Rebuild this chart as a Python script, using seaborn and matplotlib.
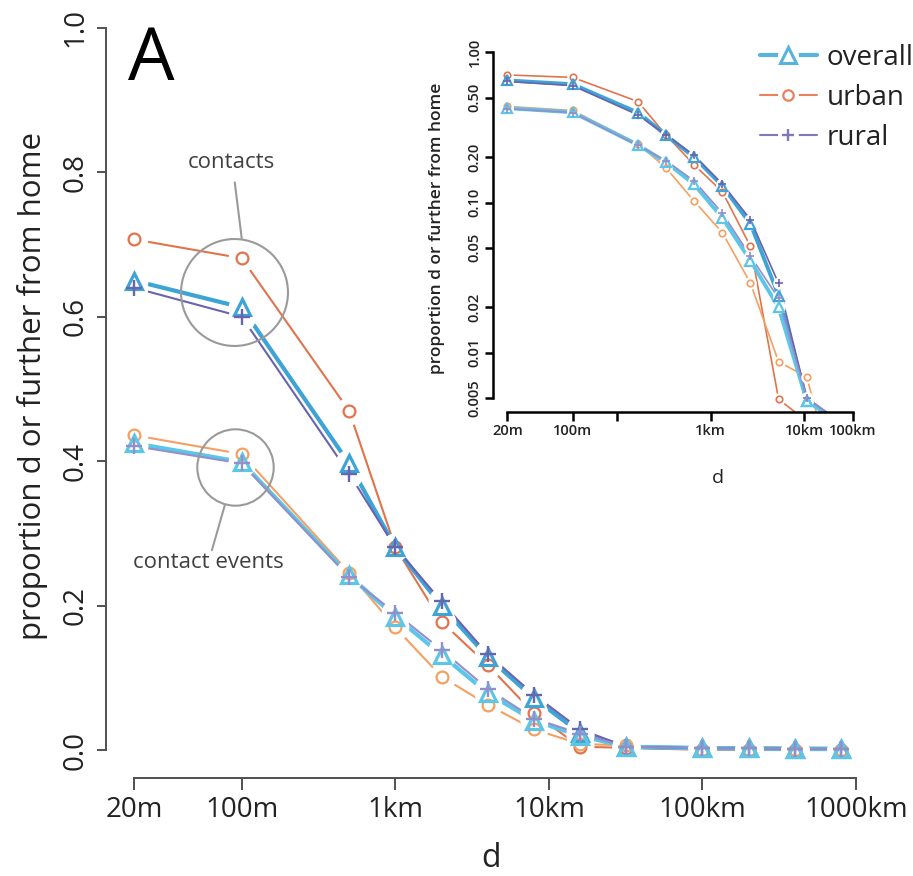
import matplotlib
matplotlib.use("Agg")
import matplotlib.pyplot as plt
from matplotlib.lines import Line2D
from matplotlib.legend_handler import HandlerTuple
from matplotlib.ticker import NullLocator
import seaborn as sns

# distance from home (metres) at which each proportion is evaluated
distance_m = [20, 100, 500, 1000, 2000, 4000, 8000, 16000, 32000,
              100000, 200000, 400000, 800000]

# proportion of contacts at distance d or further from home
contacts_overall = [0.650, 0.613, 0.397, 0.281, 0.200, 0.129, 0.072, 0.0240, 0.0048,
                    0.0030, 0.0028, 0.0022, 0.0020]
contacts_urban = [0.707, 0.681, 0.470, 0.281, 0.178, 0.118, 0.051, 0.0049, 0.0035,
                  0.0006, 0.0005, 0.0004, 0.0004]
contacts_rural = [0.640, 0.600, 0.383, 0.281, 0.206, 0.133, 0.077, 0.0289, 0.0050,
                  0.0030, 0.0028, 0.0022, 0.0020]

# proportion of contact events at distance d or further from home
events_overall = [0.425, 0.399, 0.242, 0.185, 0.132, 0.079, 0.041, 0.0200, 0.0048,
                  0.0030, 0.0028, 0.0022, 0.0020]
events_urban = [0.436, 0.410, 0.246, 0.170, 0.102, 0.063, 0.029, 0.0087, 0.0069,
                0.0005, 0.0005, 0.0004, 0.0004]
events_rural = [0.421, 0.397, 0.240, 0.190, 0.139, 0.085, 0.044, 0.0230, 0.0050,
                0.0030, 0.0028, 0.0022, 0.0020]

main_xticks = [20, 100, 1000, 10000, 100000, 1000000]
main_xticklabels = ["20m", "100m", "1km", "10km", "100km", "1000km"]
main_yticks = [0.0, 0.2, 0.4, 0.6, 0.8, 1.0]
main_yticklabels = ["0.0", "0.2", "0.4", "0.6", "0.8", "1.0"]

inset_xticks = [20, 100, 300, 3000, 30000, 100000]
inset_xticklabels = ["20m", "100m", "", "1km", "10km", "100km"]
inset_yticks = [1.0, 0.5, 0.2, 0.1, 0.05, 0.02, 0.01, 0.005]
inset_yticklabels = ["1.00", "0.50", "0.20", "0.10", "0.05", "0.02", "0.01", "0.005"]

legend_labels = ["overall", "urban", "rural"]

sns.set_theme(style="white")
plt.rcParams["font.family"] = ["Open Sans", "DejaVu Sans"]

TEXT = "#222222"
C_OVERALL, C_OVERALL_EV = "#3ea4d6", "#5cc6e8"
C_URBAN, C_URBAN_EV = "#e0744c", "#f5a062"
C_RURAL, C_RURAL_EV = "#6a63ae", "#948ecb"

W, H = 913, 876
fig = plt.figure(figsize=(W / 100, H / 100), dpi=100)


def rect(left, top, right, bottom):
    return [left / W, 1 - bottom / H, (right - left) / W, (bottom - top) / H]


# (values, colour, marker, line width, marker size, edge width)
def series_specs(big):
    k = 1.0 if big else 0.55
    thick = 3.0 if big else 2.8
    thin = 1.5 if big else 1.2
    return [
        (contacts_urban, C_URBAN, "o", thin, 8.5 * k, 1.6 if big else 1.2),
        (events_urban, C_URBAN_EV, "o", thin, 8.5 * k, 1.6 if big else 1.2),
        (contacts_overall, C_OVERALL, "^", thick, 12 * k, 2.3 if big else 1.6),
        (events_overall, C_OVERALL_EV, "^", thick, 12 * k, 2.3 if big else 1.6),
        (contacts_rural, C_RURAL, "+", thin, 11 * k, 1.7 if big else 1.2),
        (events_rural, C_RURAL_EV, "+", thin, 11 * k, 1.7 if big else 1.2),
    ]


def draw_series(ax, big):
    specs = series_specs(big)
    gap = 20 if big else 9
    for vals, col, mk, lw, ms, mew in specs:
        sns.lineplot(x=distance_m, y=vals, color=col, linewidth=lw, ax=ax,
                     legend=False, zorder=2)
    # white discs leave a small gap in each line around its points
    for vals, col, mk, lw, ms, mew in specs:
        ax.plot(distance_m, vals, ls="none", marker="o", ms=gap,
                mfc="white", mec="none", zorder=3)
    for vals, col, mk, lw, ms, mew in specs:
        ax.plot(distance_m, vals, ls="none", marker=mk, ms=ms, mfc="none",
                mec=col, mew=mew, zorder=4)


# ---------------- main panel ----------------
ax = fig.add_axes(rect(106, 10, 875, 778))
ax.set_xscale("log")
draw_series(ax, big=True)
ax.set_xlim(13.08, 1.328e6)
ax.set_ylim(-0.0383, 1.0245)
ax.xaxis.set_minor_locator(NullLocator())
ax.set_xticks(main_xticks)
ax.set_xticklabels(main_xticklabels)
ax.set_yticks(main_yticks)
ax.set_yticklabels(main_yticklabels)
for side in ["top", "right"]:
    ax.spines[side].set_visible(False)
ax.spines["left"].set_bounds(0, 1)
ax.spines["bottom"].set_bounds(20, 1e6)
for side in ["left", "bottom"]:
    ax.spines[side].set_color("#505050")
    ax.spines[side].set_linewidth(1.4)
ax.tick_params(axis="x", length=8.8, width=1.4, color="#505050", pad=4,
               labelsize=20, labelcolor=TEXT, bottom=True)
ax.tick_params(axis="y", length=6.6, width=1.4, color="#505050", pad=5,
               labelsize=20, labelcolor=TEXT, left=True, labelrotation=90)
for lab in ax.get_yticklabels():
    lab.set_va("center")
ax.set_xlabel("d", fontsize=23, color=TEXT)
ax.xaxis.set_label_coords(0.5, -0.105)
ax.xaxis.label.set_va("center")
ax.set_ylabel("proportion d or further from home", fontsize=22.5, color=TEXT)
ax.yaxis.set_label_coords(-0.096, 0.511)
ax.yaxis.label.set_va("center")

# callout circles around the 100m points
ax.plot([88.8], [0.634], marker="o", ms=77, mfc="none", mec="#9a9a9a",
        mew=1.5, ls="none", zorder=5)
ax.plot([90.0], [0.392], marker="o", ms=55, mfc="none", mec="#9a9a9a",
        mew=1.5, ls="none", zorder=5)
ax.plot([90.1, 100.0], [0.786, 0.709], color="#9a9a9a", lw=1.5, zorder=5)
ax.plot([77.6, 64.0], [0.339, 0.277], color="#9a9a9a", lw=1.5, zorder=5)
ax.text(86.3, 0.814, "contacts", fontsize=16, color="#404040",
        ha="center", va="center")
ax.text(60.3, 0.2605, "contact events", fontsize=16, color="#404040",
        ha="center", va="center")

fig.text(128 / W, 1 - 80 / H, "A", fontsize=53, color="black",
         ha="left", va="baseline")

# ---------------- inset (log-log) ----------------
axi = fig.add_axes(rect(493, 35, 870, 412))
axi.set_facecolor("none")
axi.set_xscale("log")
axi.set_yscale("log")
draw_series(axi, big=False)
axi.set_xlim(14.06, 152100)
axi.set_ylim(0.004029, 1.304)
axi.xaxis.set_minor_locator(NullLocator())
axi.yaxis.set_minor_locator(NullLocator())
axi.set_xticks(inset_xticks)
axi.set_xticklabels(inset_xticklabels, fontweight="semibold")
axi.set_yticks(inset_yticks)
axi.set_yticklabels(inset_yticklabels, fontweight="semibold")
for side in ["top", "right"]:
    axi.spines[side].set_visible(False)
axi.spines["left"].set_bounds(0.005, 1.0)
axi.spines["bottom"].set_bounds(20, 100000)
for side in ["left", "bottom"]:
    axi.spines[side].set_color("black")
    axi.spines[side].set_linewidth(1.8)
axi.tick_params(axis="x", length=6.2, width=1.8, color="black", pad=2.5,
                labelsize=10.5, labelcolor=TEXT, bottom=True)
axi.tick_params(axis="y", length=5.8, width=1.8, color="black", pad=2.5,
                labelsize=10.5, labelcolor=TEXT, left=True, labelrotation=90)
for lab in axi.get_yticklabels():
    lab.set_va("center")
axi.set_xlabel("d", fontsize=14, color=TEXT)
axi.xaxis.set_label_coords((718 - 493) / 377, -(478 - 412) / 377)
axi.xaxis.label.set_va("center")
axi.set_ylabel("proportion d or further from home", fontsize=12.5, color=TEXT,
               fontweight="semibold")
axi.yaxis.set_label_coords(-(493 - 437) / 377, (412 - 228) / 377)
axi.yaxis.label.set_va("center")

# ---------------- legend ----------------
legend_styles = [
    ("#58b4de", "^", 3.0, 11, 2.2),
    ("#e8825a", "o", 1.5, 7.5, 1.6),
    ("#8078ba", "+", 1.5, 8.5, 1.7),
]
handles = []
for col, mk, lw, ms, mew in legend_styles:
    handles.append((
        Line2D([], [], color=col, lw=lw),
        Line2D([], [], ls="none", marker="o", ms=15, mfc="white", mec="none"),
        Line2D([], [], ls="none", marker=mk, ms=ms, mfc="none", mec=col, mew=mew),
    ))
fig.legend(handles, legend_labels,
           handler_map={tuple: HandlerTuple(ndivide=1, pad=0)},
           loc="upper left", bbox_to_anchor=(760 / W, 1 - 44 / H),
           frameon=False, fontsize=20, handlelength=2.05, handletextpad=0.35,
           labelspacing=0.43, borderpad=0, borderaxespad=0, labelcolor=TEXT)

fig.savefig("out.png", dpi=100)
